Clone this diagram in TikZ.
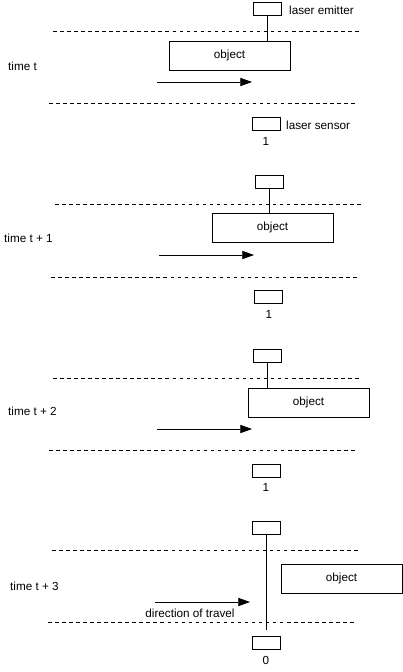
\documentclass[tikz,border=0pt]{standalone}
\usepackage{fontspec}
\setmainfont{Liberation Sans}
\usetikzlibrary{arrows.meta, positioning}

\begin{document}
\begin{tikzpicture}[
  x=0.03cm, y=-0.03cm,
  font=\fontsize{10}{12}\selectfont,
  lasernode/.style={rectangle, draw, line width=0.7pt, minimum width=0.84cm, minimum height=0.39cm, inner sep=0pt},
  objectnode/.style={rectangle, draw, line width=0.7pt, minimum width=3.63cm, minimum height=0.87cm, inner sep=0pt},
  textnode/.style={anchor=west, inner sep=0pt},
  beam/.style={line width=0.7pt},
  lane/.style={line width=0.7pt, dash pattern=on 3pt off 3pt},
  arr/.style={-{Triangle[length=10pt, width=7pt]}, line width=0.7pt},
]
  \useasboundingbox (0,0) rectangle (403,672);

  % Time t
  \node[lasernode] (e1) at (267,9) {};
  \node[textnode] (emlabel) at (289,10) {laser emitter};
  \node[objectnode] (o1) at (229.5,55.5) {object};
  \node[lasernode] (s1) at (266,123.5) {};
  \node[textnode] (selabel) at (286,125) {laser sensor};
  \node (c1) at (266,141) {1};
  \node[textnode] (t1) at (8,66) {time t};

  \draw[beam] (e1) -- (e1 |- o1.north);
  \draw[lane] (53,31) -- (361,31);
  \draw[lane] (49,103) -- (358,103);
  \draw[arr] (157,82) -- (252,82);

  % Time t + 1
  \node[lasernode] (e2) at (269,181.5) {};
  \node[objectnode] (o2) at (272.5,227.5) {object};
  \node[lasernode] (s2) at (268,296.5) {};
  \node (c2) at (269,314) {1};
  \node[textnode] (t2) at (4,238) {time t + 1};

  \draw[beam] (e2) -- (e2 |- o2.north);
  \draw[lane] (55,204) -- (363,204);
  \draw[lane] (51,277) -- (360,277);
  \draw[arr] (159,255) -- (254,255);

  % Time t + 2
  \node[lasernode] (e3) at (267,355.5) {};
  \node[objectnode] (o3) at (308.5,402.5) {object};
  \node[lasernode] (s3) at (266,470.5) {};
  \node (c3) at (266,487) {1};
  \node[textnode] (t3) at (8,411) {time t + 2};

  \draw[beam] (e3) -- (e3 |- o3.north);
  \draw[lane] (53,378) -- (361,378);
  \draw[lane] (49,450) -- (358,450);
  \draw[arr] (157,429) -- (252,429);

  % Time t + 3: object past the beam
  \node[lasernode] (e4) at (266.5,527.5) {};
  \node[objectnode] (o4) at (341.5,578.5) {object};
  \node[lasernode] (s4) at (266.5,642.5) {};
  \node (c4) at (266,660) {0};
  \node[textnode] (t4) at (10,586) {time t + 3};
  \node (dir) at (190,613) {direction of travel};

  \draw[beam, shorten >=5pt] (e4) -- (e4 |- s4.north);
  \draw[lane] (52,550) -- (360,550);
  \draw[lane] (48,622) -- (357,622);
  \draw[arr] (155,602) -- (250,602);
\end{tikzpicture}
\end{document}
